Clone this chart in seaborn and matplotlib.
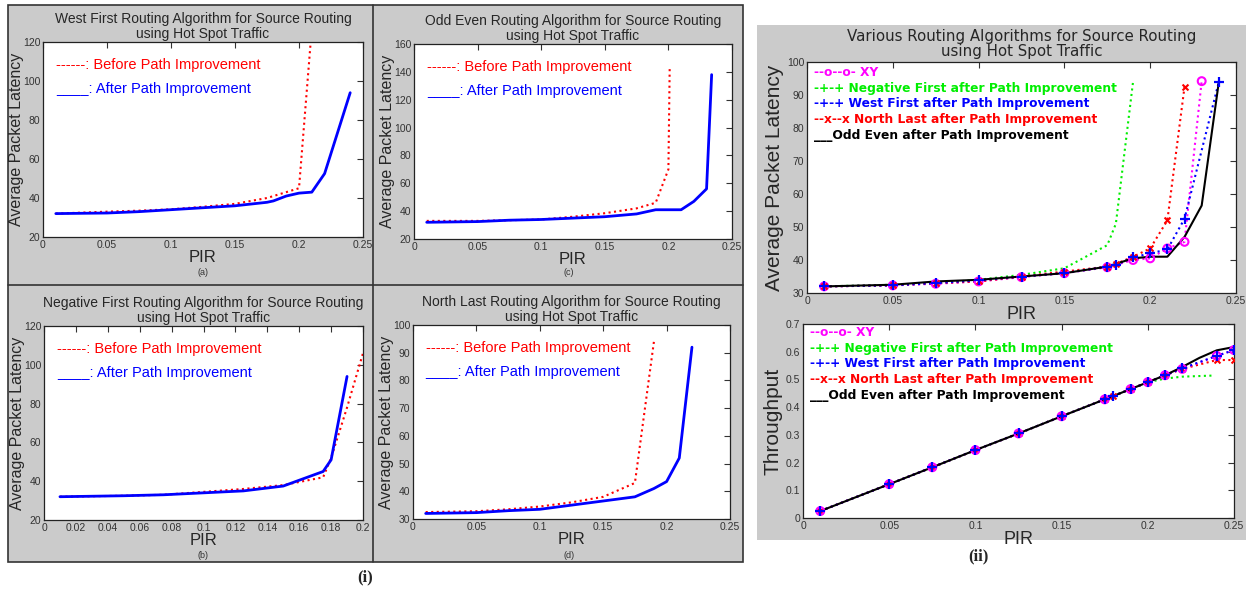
import matplotlib
matplotlib.use("Agg")
import matplotlib.pyplot as plt
import seaborn as sns
import numpy as np
from matplotlib.patches import Rectangle
from matplotlib.lines import Line2D

sns.set_style("white")
plt.rcParams['font.family'] = ['Liberation Sans', 'DejaVu Sans']

W, H = 1256, 590
GRAY = '#cbcbcb'
GREEN = '#00ee00'

# ---- data: West First (a)
wf_x_before = [0.01, 0.05, 0.075, 0.1, 0.125, 0.15, 0.175, 0.19, 0.2, 0.209]
wf_y_before = [32, 33, 33.5, 34.2, 35.5, 37, 40, 43, 45, 119]
wf_x_after = [0.01, 0.05, 0.075, 0.1, 0.125, 0.15, 0.175, 0.18, 0.19, 0.2, 0.21, 0.22, 0.24]
wf_y_after = [32, 32.3, 33, 34, 35, 36, 37.8, 38.5, 41, 42.5, 43, 52.5, 94]

# ---- data: Odd Even (c)
oe_x_before = [0.01, 0.05, 0.1, 0.125, 0.15, 0.175, 0.19, 0.2, 0.201]
oe_y_before = [33, 33, 34, 36, 38.5, 42, 46, 70, 142]
oe_x_after = [0.01, 0.05, 0.075, 0.1, 0.125, 0.15, 0.175, 0.19, 0.2, 0.21, 0.22, 0.23, 0.234]
oe_y_after = [32, 32.5, 33.5, 34, 35, 36, 38, 41, 41, 41, 47, 56, 138]

# ---- data: Negative First (b)
nf_x_before = [0.01, 0.05, 0.075, 0.1, 0.125, 0.15, 0.175, 0.18, 0.19, 0.2]
nf_y_before = [32, 32.5, 33, 34.5, 36, 38, 42, 52, 78, 106]
nf_x_after = [0.01, 0.05, 0.075, 0.1, 0.125, 0.15, 0.16, 0.175, 0.18, 0.19]
nf_y_after = [32, 32.5, 33, 34, 35, 37.5, 40.5, 45, 51, 94]

# ---- data: North Last (d)
nl_x_before = [0.01, 0.05, 0.075, 0.1, 0.125, 0.15, 0.175, 0.19]
nl_y_before = [32.5, 32.8, 33.5, 34.5, 36, 38, 43, 94]
nl_x_after = [0.01, 0.05, 0.075, 0.1, 0.125, 0.15, 0.175, 0.19, 0.2, 0.21, 0.22]
nl_y_after = [32, 32.3, 33, 33.5, 35, 36.5, 38, 41, 43.5, 52, 92]

# ---- data: comparison, latency
xy_x = [0.01, 0.05, 0.075, 0.1, 0.125, 0.15, 0.175, 0.19, 0.2, 0.21, 0.22, 0.23]
xy_lat = [32, 32.3, 32.8, 33.5, 34.8, 36, 37.8, 40, 40.5, 43.5, 45.5, 94.2]
nf2_x = [0.01, 0.05, 0.075, 0.1, 0.125, 0.15, 0.175, 0.18, 0.19]
nf2_lat = [32, 32.5, 33, 34, 35.5, 37.5, 44.5, 51, 94]
wf2_x = [0.01, 0.05, 0.075, 0.1, 0.125, 0.15, 0.175, 0.18, 0.19, 0.2, 0.21, 0.22, 0.24]
wf2_lat = [32, 32.3, 33, 33.8, 35, 36, 38, 38.5, 40.8, 42, 43.2, 52.5, 94]
nl2_x = [0.01, 0.05, 0.075, 0.1, 0.125, 0.15, 0.175, 0.18, 0.19, 0.2, 0.21, 0.22]
nl2_lat = [32, 32.3, 33, 33.5, 35, 36.5, 38, 38.8, 41, 43.5, 52, 92.5]
oe2_x = [0.01, 0.05, 0.075, 0.1, 0.125, 0.15, 0.175, 0.19, 0.2, 0.21, 0.22, 0.23, 0.24]
oe2_lat = [32, 32.5, 33.5, 34, 35, 36, 38, 40.5, 41, 41, 47, 56.5, 94]

# ---- data: comparison, throughput
xy_tx = [0.01, 0.05, 0.075, 0.1, 0.125, 0.15, 0.175, 0.19, 0.2, 0.21, 0.22, 0.24, 0.25]
xy_tp = [0.025, 0.122, 0.183, 0.245, 0.305, 0.367, 0.428, 0.465, 0.49, 0.515, 0.538, 0.585, 0.606]
nf_tx = [0.01, 0.05, 0.075, 0.1, 0.125, 0.15, 0.175, 0.18, 0.19, 0.2, 0.21, 0.22, 0.238]
nf_tp = [0.025, 0.122, 0.183, 0.245, 0.305, 0.367, 0.428, 0.44, 0.465, 0.49, 0.503, 0.51, 0.514]
wf_tx = [0.01, 0.05, 0.075, 0.1, 0.125, 0.15, 0.175, 0.18, 0.19, 0.2, 0.21, 0.22, 0.24, 0.25]
wf_tp = [0.025, 0.122, 0.183, 0.245, 0.305, 0.367, 0.428, 0.44, 0.465, 0.49, 0.515, 0.54, 0.585, 0.606]
nl_tx = [0.01, 0.05, 0.075, 0.1, 0.125, 0.15, 0.175, 0.18, 0.19, 0.2, 0.21, 0.22, 0.24, 0.25]
nl_tp = [0.025, 0.122, 0.183, 0.245, 0.305, 0.367, 0.428, 0.44, 0.465, 0.49, 0.515, 0.538, 0.57, 0.57]
oe_tx = [0.01, 0.05, 0.075, 0.1, 0.125, 0.15, 0.175, 0.19, 0.2, 0.21, 0.22, 0.23, 0.24, 0.25]
oe_tp = [0.025, 0.122, 0.183, 0.245, 0.305, 0.367, 0.428, 0.465, 0.49, 0.515, 0.545, 0.578, 0.605, 0.617]


def box(l, t, r, b):
    return [l / W, 1 - b / H, (r - l) / W, (b - t) / H]


def fpt(x, y):
    return x / W, 1 - y / H


fig = plt.figure(figsize=(12.56, 5.90), dpi=100)

# gray panel backgrounds (behind the axes)
fig.patches.append(Rectangle(fpt(8, 562), (743 - 8) / W, (562 - 5) / H, transform=fig.transFigure,
                             facecolor=GRAY, edgecolor='#333333', lw=1.2, zorder=-10))
fig.patches.append(Rectangle(fpt(757, 540), (1246 - 757) / W, (540 - 25) / H, transform=fig.transFigure,
                             facecolor=GRAY, edgecolor='none', zorder=-10))
fig.lines.append(Line2D([373 / W, 373 / W], [1 - 5 / H, 1 - 562 / H], transform=fig.transFigure,
                        color='#333333', lw=1.2, zorder=-5))
fig.lines.append(Line2D([8 / W, 743 / W], [1 - 285 / H, 1 - 285 / H], transform=fig.transFigure,
                        color='#333333', lw=1.2, zorder=-5))


def style_ax(ax, xlim, xticks, ylim, yticks, tsize=7.5):
    ax.set_facecolor('white')
    ax.set_xlim(*xlim)
    ax.set_ylim(*ylim)
    ax.set_xticks(xticks)
    ax.set_yticks(yticks)
    ax.set_xticklabels([f'{v:g}' for v in xticks])
    ax.set_yticklabels([f'{v:g}' for v in yticks])
    ax.tick_params(direction='in', length=4, top=True, right=True, labelsize=tsize,
                   colors='#333333', pad=2)
    for s in ax.spines.values():
        s.set_color('#222222')
        s.set_linewidth(0.9)


def small_panel(rect, title, xb, yb, xa, ya, xlim, xticks, ylim, yticks, sub, sub_xy):
    ax = fig.add_axes(box(*rect))
    sns.lineplot(x=xb, y=yb, ax=ax, color='red', linestyle=':', lw=1.5, estimator=None)
    sns.lineplot(x=xa, y=ya, ax=ax, color='blue', linestyle='-', lw=2, estimator=None)
    style_ax(ax, xlim, xticks, ylim, yticks)
    ax.set_title(title, fontsize=10, pad=3, linespacing=1.05)
    ax.set_xlabel('PIR', fontsize=12, labelpad=0)
    ax.set_ylabel('Average Packet Latency', fontsize=11.5, labelpad=-1)
    ax.text(0.04, 0.88, '------: Before Path Improvement', color='red', fontsize=10.5,
            transform=ax.transAxes, va='center')
    ax.text(0.04, 0.76, '____: After Path Improvement', color='blue', fontsize=10.5,
            transform=ax.transAxes, va='center')
    fig.text(*fpt(*sub_xy), sub, fontsize=6.5, ha='center', va='center', color='#333333')
    return ax


x25 = [0, 0.05, 0.1, 0.15, 0.2, 0.25]
small_panel((43, 42, 363, 237), 'West First Routing Algorithm for Source Routing\nusing Hot Spot Traffic',
            wf_x_before, wf_y_before, wf_x_after, wf_y_after, (0, 0.25), x25, (20, 120),
            [20, 40, 60, 80, 100, 120], '(a)', (203, 273))
small_panel((414, 44, 732, 239), 'Odd Even Routing Algorithm for Source Routing\nusing Hot Spot Traffic',
            oe_x_before, oe_y_before, oe_x_after, oe_y_after, (0, 0.25), x25, (20, 160),
            [20, 40, 60, 80, 100, 120, 140, 160], '(c)', (569, 273))
small_panel((44, 326, 363, 520), 'Negative First Routing Algorithm for Source Routing\nusing Hot Spot Traffic',
            nf_x_before, nf_y_before, nf_x_after, nf_y_after, (0, 0.2),
            [0, 0.02, 0.04, 0.06, 0.08, 0.1, 0.12, 0.14, 0.16, 0.18, 0.2], (20, 120),
            [20, 40, 60, 80, 100, 120], '(b)', (203, 556))
small_panel((413, 325, 730, 519), 'North Last Routing Algorithm for Source Routing\nusing Hot Spot Traffic',
            nl_x_before, nl_y_before, nl_x_after, nl_y_after, (0, 0.25), x25, (30, 100),
            [30, 40, 50, 60, 70, 80, 90, 100], '(d)', (569, 556))

# ---- comparison panels
legend_lines = [('--o--o- XY', 'magenta'),
                ('-+-+ Negative First after Path Improvement', GREEN),
                ('-+-+ West First after Path Improvement', 'blue'),
                ('--x--x North Last after Path Improvement', 'red'),
                ('___Odd Even after Path Improvement', 'black')]


def compare(ax, series, x0, y0):
    for (xs, ys, col, ls, mk) in series:
        sns.lineplot(x=xs, y=ys, ax=ax, color=col, linestyle=ls, lw=1.5, estimator=None)
        if mk == 'o':
            sns.scatterplot(x=xs, y=ys, ax=ax, marker='o', s=32, facecolors='none',
                            edgecolor=col, linewidth=1.5, zorder=3)
        elif mk == '+':
            sns.scatterplot(x=xs, y=ys, ax=ax, marker='+', s=60, color=col,
                            linewidth=1.6, zorder=3)
        elif mk == 'x':
            sns.scatterplot(x=xs, y=ys, ax=ax, marker='x', s=18, color=col,
                            linewidth=1.5, zorder=3)
    for i, (txt, col) in enumerate(legend_lines):
        fig.text(*fpt(x0, y0 + i * 15.5), txt, color=col, fontsize=8.8, fontweight='bold',
                 family=['DejaVu Sans'], va='center')


axt = fig.add_axes(box(807, 62, 1236, 293))
compare(axt, [(nf2_x, nf2_lat, GREEN, ':', None),
              (xy_x, xy_lat, 'magenta', ':', 'o'),
              (nl2_x, nl2_lat, 'red', ':', 'x'),
              (wf2_x, wf2_lat, 'blue', ':', '+'),
              (oe2_x, oe2_lat, 'black', '-', None)], 814, 73)
style_ax(axt, (0, 0.25), x25, (30, 100), [30, 40, 50, 60, 70, 80, 90, 100])
axt.set_title('Various Routing Algorithms for Source Routing\nusing Hot Spot Traffic',
              fontsize=10.8, pad=4, linespacing=1.0, family=['DejaVu Sans'])
axt.set_xlabel('PIR', fontsize=13, labelpad=0)
axt.set_ylabel('Average Packet Latency', fontsize=15, labelpad=2)

axb = fig.add_axes(box(803, 324, 1234, 518))
compare(axb, [(nf_tx, nf_tp, GREEN, ':', None),
              (nl_tx, nl_tp, 'red', ':', 'x'),
              (xy_tx, xy_tp, 'magenta', ':', 'o'),
              (wf_tx, wf_tp, 'blue', ':', '+'),
              (oe_tx, oe_tp, 'black', '-', None)], 810, 333)
style_ax(axb, (0, 0.25), x25, (0, 0.7), [0, 0.1, 0.2, 0.3, 0.4, 0.5, 0.6, 0.7])
axb.set_xlabel('PIR', fontsize=13, labelpad=0)
axb.set_ylabel('Throughput', fontsize=15, labelpad=2)

fig.text(*fpt(365, 577), '(i)', fontsize=12, fontweight='bold', family=['Liberation Serif'],
         ha='center', va='center')
fig.text(*fpt(978, 556), '(ii)', fontsize=12, fontweight='bold', family=['Liberation Serif'],
         ha='center', va='center')

fig.savefig('out.png', dpi=100)
